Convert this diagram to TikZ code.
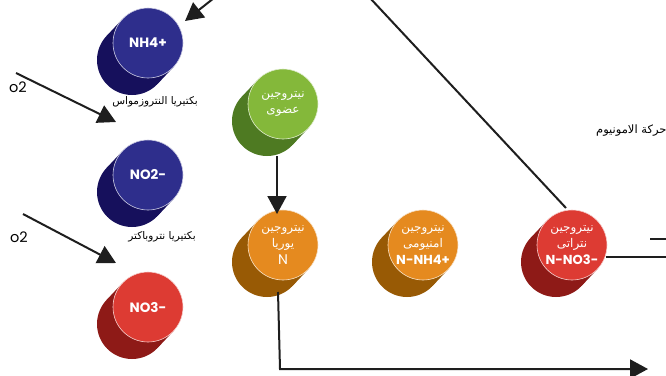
\documentclass[tikz,border=0pt]{standalone}
\usepackage{fontspec}
\usetikzlibrary{arrows.meta,calc}
\TeXXeTstate=1
\newfontfamily\arabicfont[Script=Arabic]{DejaVu Sans}
\newfontfamily\latfont{Poppins}
\definecolor{blueF}{RGB}{46,46,140}
\definecolor{blueB}{RGB}{22,16,92}
\definecolor{greenF}{RGB}{132,184,58}
\definecolor{greenB}{RGB}{78,122,34}
\definecolor{orangeF}{RGB}{229,138,31}
\definecolor{orangeB}{RGB}{152,90,5}
\definecolor{redF}{RGB}{221,59,51}
\definecolor{redB}{RGB}{142,26,23}
\definecolor{lineC}{RGB}{30,30,30}
\tikzset{
  frontdisc/.style={circle, minimum size=70pt, inner sep=0pt, line width=0.6pt,
    text=white, align=center, font=\arabicfont\fontsize{12}{16.5}\selectfont},
  flow/.style={draw=lineC, line width=2pt, -{Triangle[length=18pt,width=19pt]}},
  plain/.style={draw=lineC, line width=2pt},
}
%% disc with its dark shadow: name, position, front colour, back colour, text
\newcommand\cylnode[5]{%
  \fill[#4] ($(#2)+(-16,17)$) circle (35pt);
  \fill[#4] ($(#2)+(25.5,24)$) -- ($(#2)+(-25.5,-24)$)
    -- ($(#2)+(-41.5,-7)$) -- ($(#2)+(9.5,41)$) -- cycle;
  \node[frontdisc, fill=#3, draw=white!75!#3] (#1) at (#2) {#5};
}
\newcommand\ar[1]{\beginR #1\endR}

\begin{document}
\begin{tikzpicture}[x=1pt,y=-1pt]
  \useasboundingbox (0,0) rectangle (666,375);
  %% nitrifying chain on the left
  \cylnode{nh4}{148,43}{blueF}{blueB}{\latfont\bfseries\fontsize{13.5}{15}\selectfont NH4+}
  \cylnode{no2}{148,175}{blueF}{blueB}{\latfont\bfseries\fontsize{13.5}{15}\selectfont NO2-}
  \cylnode{no3}{148,307}{redF}{redB}{\latfont\bfseries\fontsize{13.5}{15}\selectfont NO3-}
  \node[font=\arabicfont\fontsize{10.5}{12}\selectfont] (bact1) at (155,102) {\ar{بكتيريا النتروزمواس}};
  \node[font=\arabicfont\fontsize{10.5}{12}\selectfont] (bact2) at (162,237) {\ar{بكتيريا نتروباكتر}};
  %% soil nitrogen forms
  \cylnode{org}{283,104}{greenF}{greenB}{\ar{نيتروجين}\\\ar{عضوى}}
  \cylnode{urea}{283,245}{orangeF}{orangeB}{\ar{نيتروجين}\\\ar{يوريا}\\{\latfont\fontsize{14}{15}\selectfont N}}
  \cylnode{amm}{423,245}{orangeF}{orangeB}{\ar{نيتروجين}\\\ar{امنيومى}\\{\latfont\bfseries\fontsize{13}{15}\selectfont N-NH4+}}
  \cylnode{nit}{572,245}{redF}{redB}{\ar{نيتروجين}\\\ar{نتراتى}\\{\latfont\bfseries\fontsize{13}{15}\selectfont N-NO3-}}
  %% labels
  \node[font=\latfont\fontsize{14.5}{16}\selectfont] (o2a) at (18,87) {o2};
  \node[font=\latfont\fontsize{14.5}{16}\selectfont] (o2b) at (19,237) {o2};
  \node[font=\arabicfont\fontsize{11.5}{13}\selectfont, anchor=east] (move) at (670,131) {\ar{حركة الامونيوم}};
  %% end points
  \coordinate (topin) at (214,-2);
  \coordinate (o2aS) at (16,73);
  \coordinate (o2aE) at (116,122);
  \coordinate (o2bS) at (23,214);
  \coordinate (o2bE) at (116,263);
  \coordinate (orgB) at (277,156);
  \coordinate (ureaT) at (277,214);
  \coordinate (ureaB) at (278,292);
  \coordinate (corner) at (280,369);
  \coordinate (outR) at (648,369);
  \coordinate (diagS) at (370,-2);
  \coordinate (diagE) at (566,208);
  \coordinate (nitR) at (606,257);
  \coordinate (edgeA) at (668,257);
  \coordinate (stubS) at (650,239);
  \coordinate (edgeB) at (668,239);
  %% connectors
  \draw[flow] (topin) -- (185,21);
  \draw[flow] (o2aS) -- (o2aE);
  \draw[flow] (o2bS) -- (o2bE);
  \draw[flow] (orgB) -- (ureaT);
  \draw[flow] (ureaB) -- (corner) -- (outR);
  \draw[plain] (diagS) -- (diagE);
  \draw[plain] (nitR) -- (edgeA);
  \draw[plain] (stubS) -- (edgeB);
\end{tikzpicture}
\end{document}
